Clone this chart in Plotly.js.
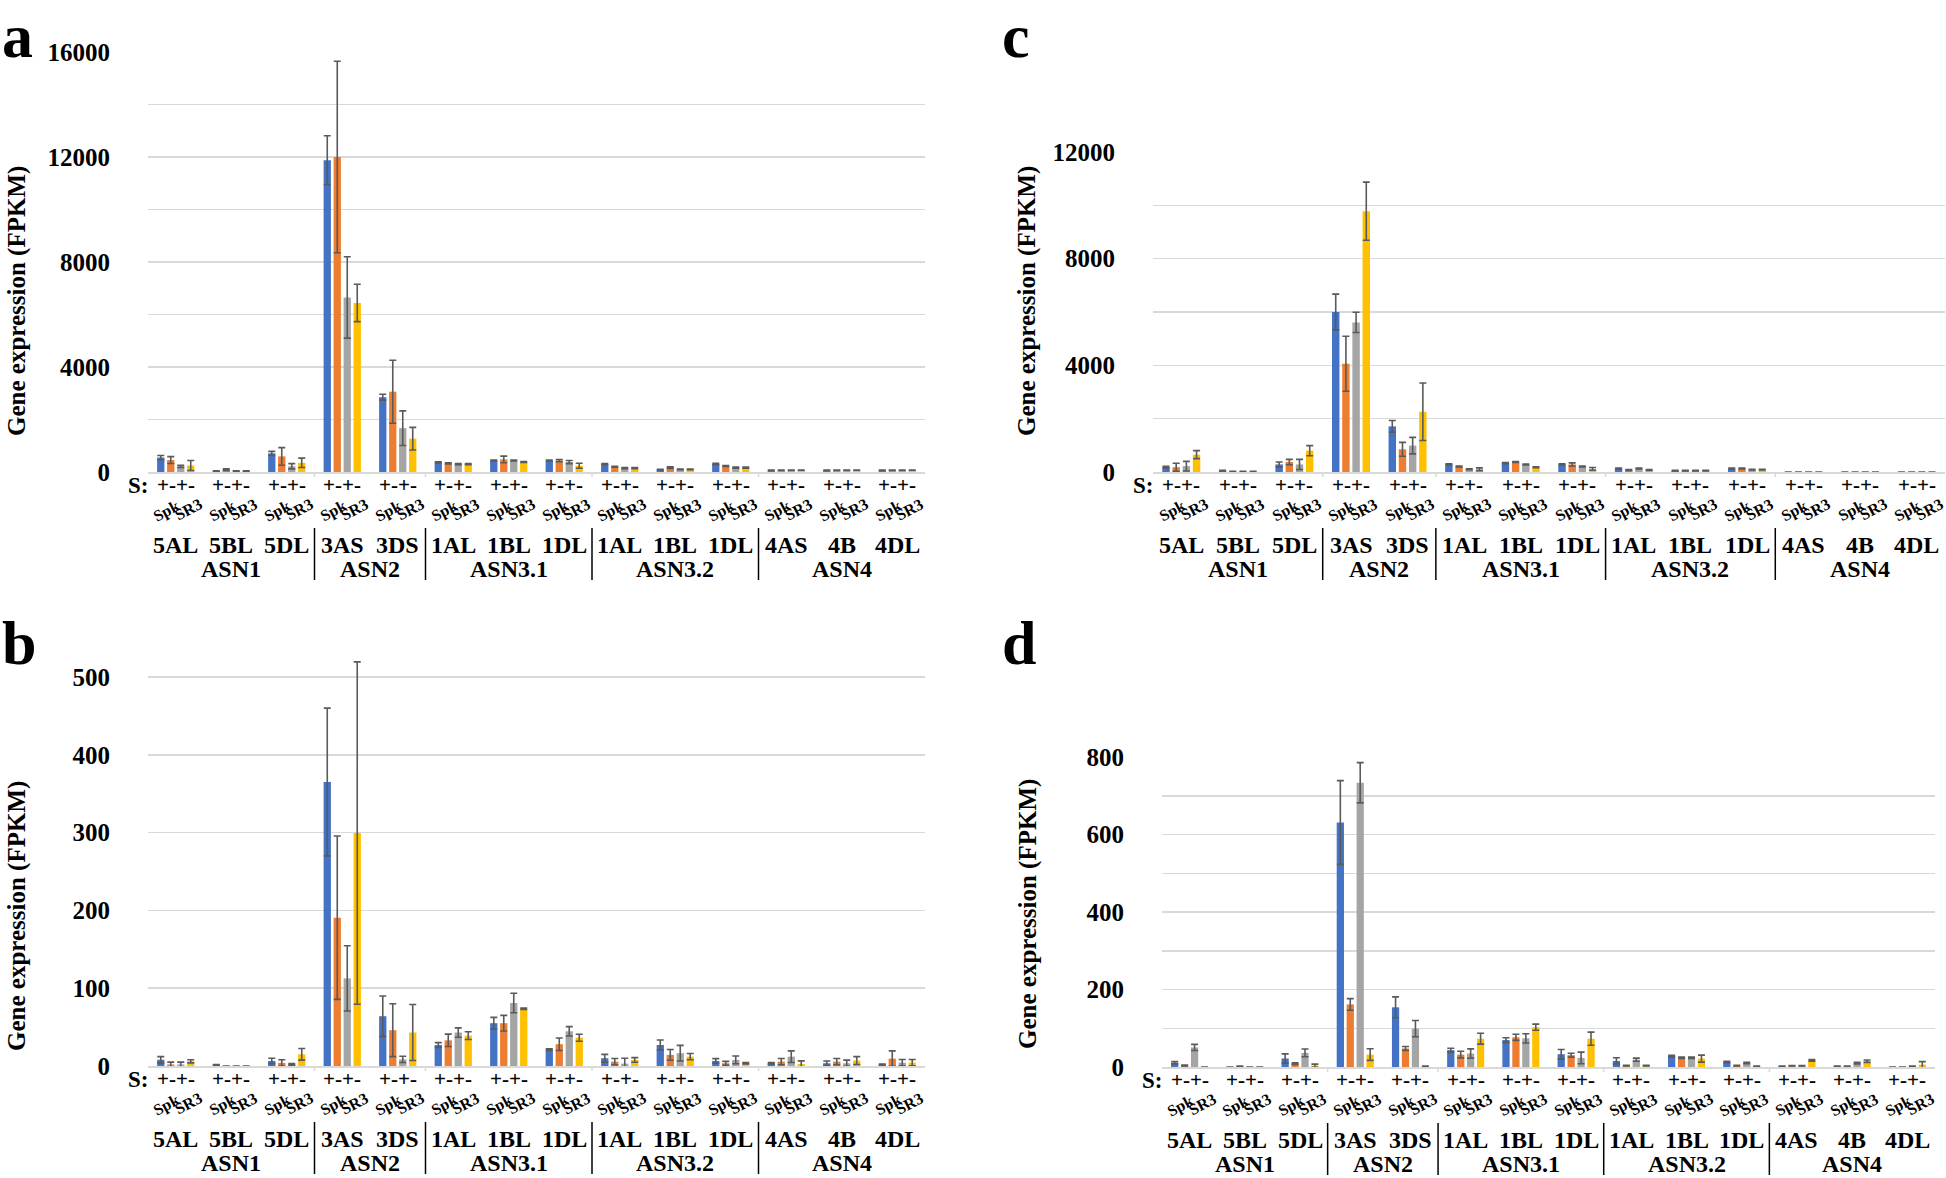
<!DOCTYPE html>
<html><head><meta charset="utf-8">
<script src="https://cdn.plot.ly/plotly-3.0.1.min.js"></script>
<style>html,body{margin:0;padding:0;background:#fff;} #chart{width:1946px;height:1178px;}</style>
</head><body><div id="chart"></div>
<script>
// ---------- data ----------
const genes = ['5AL','5BL','5DL','3AS','3DS','1AL','1BL','1DL','1AL','1BL','1DL','4AS','4B','4DL'];
const families = ['ASN1','ASN2','ASN3.1','ASN3.2','ASN4'];
const familySizes = [3,2,3,3,3];
const seriesNames = ['Spk S+','Spk S-','SR3 S+','SR3 S-'];
const signLabel = '+-+-';
const spkLabel = 'Spk';
const sr3Label = 'SR3';
const sLabel = 'S:';
const yTitle = 'Gene expression (FPKM)';
const panelLetters = ['a','b','c','d'];

// panel a
const aSpkPlus     = [550, 40, 710, 11880, 2850, 365, 440, 440, 305, 90, 305, 70, 70, 70];
const aSpkPlusErr  = [80, 10, 75, 930, 110, 20, 20, 20, 20, 10, 30, null, null, null];
const aSpkMinus    = [455, 90, 595, 12000, 3060, 330, 480, 430, 200, 165, 228, 70, 70, 70];
const aSpkMinusErr = [130, 30, 335, 3650, 1200, 20, 125, 40, 20, 30, 20, null, null, null];
const aSR3Plus     = [215, 40, 220, 6650, 1670, 300, 440, 380, 150, 100, 165, 70, 70, 70];
const aSR3PlusErr  = [40, 10, 100, 1550, 660, 20, 20, 60, 20, 10, 20, null, null, null];
const aSR3Minus    = [250, 40, 350, 6440, 1270, 300, 380, 240, 150, 100, 165, 70, 70, 70];
const aSR3MinusErr = [190, 10, 180, 710, 430, 20, 20, 95, 20, 10, 20, null, null, null];

// panel b
const bSpkPlus     = [8, 1.5, 6.5, 365, 64, 27, 55, 21, 10, 27, 6.5, 3.5, 3.5, 2];
const bSpkPlusErr  = [4, 0.5, 3.5, 95, 26, 3, 7.5, 1, 5, 6.5, 3, 1, 3, 0.5];
const bSpkMinus    = [2, 0, 4, 190.6, 46, 33, 55, 28, 5.6, 14.3, 3.5, 5.6, 5.6, 9.5];
const bSpkMinusErr = [3, null, 4, 105, 34, 8, 10, 8, 4, 7, 2.5, 4, 4, 10];
const bSR3Plus     = [2, 0, 2, 112.6, 8.5, 43, 81, 44.6, 3, 16.5, 7.8, 12, 3.5, 4.3];
const bSR3PlusErr  = [3, null, 1, 42, 4, 6, 12.5, 6, 7, 10, 5, 7.5, 4, 4];
const bSR3Minus    = [6, 0, 15, 299.4, 43, 39, 73.6, 36.4, 7.8, 12, 3.5, 2.6, 7, 4.3];
const bSR3MinusErr = [2, null, 7.5, 220, 36, 5, 1, 4.5, 3, 4, 1, 4, 5, 4];

// panel c
const cSpkPlus     = [180, 50, 284, 6000, 1710, 284, 335, 284, 129, 52, 129, 0, 0, 0];
const cSpkPlusErr  = [30, 10, 90, 670, 220, 20, 20, 20, 15, 10, 15, null, null, null];
const cSpkMinus    = [180, 20, 374, 4060, 850, 206, 374, 284, 77, 52, 129, 0, 0, 0];
const cSpkMinusErr = [150, 5, 100, 1030, 260, 20, 15, 60, 15, 10, 15, null, null, null];
const cSR3Plus     = [220, 20, 284, 5610, 990, 103, 284, 206, 129, 52, 90, 0, 0, 0];
const cSR3PlusErr  = [180, 5, 190, 380, 310, 20, 15, 20, 15, 10, 15, null, null, null];
const cSR3Minus    = [650, 20, 800, 9780, 2260, 103, 180, 116, 77, 52, 90, 0, 0, 0];
const cSR3MinusErr = [150, 5, 190, 1090, 1080, 50, 15, 50, 15, 10, 15, null, null, null];

// panel d
const dSpkPlus     = [11, 0, 22, 631, 154, 43.5, 69.6, 33, 15.7, 28, 13, 1.7, 1.7, 0];
const dSpkPlusErr  = [3, null, 12, 108, 27, 5, 6, 12, 8, 2, 2, 0.5, 0.5, null];
const dSpkMinus    = [4, 2, 8.7, 161.5, 47.8, 32, 76.6, 30.5, 3.5, 24, 3.5, 3, 1.7, 0];
const dSpkMinusErr = [1, 0.5, 2, 15, 5, 8.5, 8, 5, 1, 2, 1, 0.5, 0.5, null];
const dSR3Plus     = [50.5, 0, 36.5, 733.5, 99, 34.8, 74, 23.5, 19, 24, 10.4, 3, 10, 2];
const dSR3PlusErr  = [8, null, 10, 52, 21, 12, 12, 15, 4, 2, 2, 0.5, 2, 0.5];
const dSR3Minus    = [0, 0, 3.5, 32, 2, 73, 102.7, 73, 3.5, 21.7, 1.7, 17, 15, 6];
const dSR3MinusErr = [null, null, 4, 15, 0.5, 14, 8, 17, 1, 9, 0.5, 2, 3, 8];

// ---------- layout / style ----------
const W = 1946, H = 1178;
const colors = ['#4472C4', '#ED7D31', '#A5A5A5', '#FFC000'];
const FONT = 'Liberation Serif, Times New Roman, serif';

const panels = [
  {series:[[aSpkPlus,aSpkPlusErr],[aSpkMinus,aSpkMinusErr],[aSR3Plus,aSR3PlusErr],[aSR3Minus,aSR3MinusErr]],
   x0:148, x1:925, yBot:472, yTop:52, range:[0,16000], step:2000, labelStep:4000,
   titleX:17, titleY:301, letterX:0, letterY:0},
  {series:[[bSpkPlus,bSpkPlusErr],[bSpkMinus,bSpkMinusErr],[bSR3Plus,bSR3PlusErr],[bSR3Minus,bSR3MinusErr]],
   x0:148, x1:925, yBot:1066, yTop:657.5, range:[0,525], step:100, labelStep:100, maxTick:500,
   titleX:17, titleY:916, letterX:0, letterY:607},
  {series:[[cSpkPlus,cSpkPlusErr],[cSpkMinus,cSpkMinusErr],[cSR3Plus,cSR3PlusErr],[cSR3Minus,cSR3MinusErr]],
   x0:1153, x1:1945, yBot:472, yTop:152, range:[0,12000], step:2000, labelStep:4000,
   titleX:1027, titleY:301, letterX:1000, letterY:0},
  {series:[[dSpkPlus,dSpkPlusErr],[dSpkMinus,dSpkMinusErr],[dSR3Plus,dSR3PlusErr],[dSR3Minus,dSR3MinusErr]],
   x0:1162, x1:1935, yBot:1067, yTop:757, range:[0,800], step:100, labelStep:200,
   titleX:1028, titleY:914, letterX:1000, letterY:607}
];

const px2x = v => v / W;
const px2y = v => 1 - v / H;

const traces = [];
const layout = {
  width: W, height: H,
  margin: {l:0, r:0, t:0, b:0},
  paper_bgcolor: '#fff', plot_bgcolor: '#fff',
  showlegend: false,
  barmode: 'group', bargap: 0.28, bargroupgap: 0.27,
  font: {family: FONT, color: '#000'},
  annotations: [], shapes: []
};

panels.forEach((p, k) => {
  const sfx = k === 0 ? '' : String(k + 1);
  const xa = 'x' + sfx, ya = 'y' + sfx;
  p.series.forEach((s, si) => {
    traces.push({
      type: 'bar', name: seriesNames[si],
      x: genes.map((g, i) => i), y: s[0],
      xaxis: xa, yaxis: ya,
      marker: {color: colors[si], line: {width: 0}},
      error_y: {type: 'data', array: s[1], visible: true, color: '#5a5a5a', thickness: 1.6, width: 3.5},
      hoverinfo: 'skip'
    });
  });
  const maxTick = p.maxTick !== undefined ? p.maxTick : p.range[1];
  const tv = [], tt = [];
  for (let v = 0; v <= maxTick + 1e-9; v += p.step) {
    tv.push(v);
    tt.push(Math.abs(v / p.labelStep - Math.round(v / p.labelStep)) < 1e-9 ? String(v) : '');
  }
  layout['xaxis' + sfx] = {
    domain: [px2x(p.x0), px2x(p.x1)], anchor: ya, range: [-0.5, genes.length - 0.5],
    showticklabels: false, showgrid: false, zeroline: false, ticks: '',
    showline: true, linecolor: '#d9d9d9', linewidth: 1.5, fixedrange: true
  };
  layout['yaxis' + sfx] = {
    domain: [px2y(p.yBot), px2y(p.yTop)], anchor: xa, range: p.range,
    tickmode: 'array', tickvals: tv, ticktext: tt,
    ticks: 'outside', ticklen: 32, tickcolor: 'rgba(0,0,0,0)',
    tickfont: {family: FONT, size: 25, color: '#000', weight: 'bold'},
    showgrid: true, gridcolor: '#d9d9d9', gridwidth: 1.5,
    zeroline: false, showline: false, fixedrange: true
  };
  const A = layout.annotations;
  // y title
  A.push({xref:'paper', yref:'paper', x:px2x(p.titleX), y:px2y(p.titleY), text:'<b>'+yTitle+'</b>',
          textangle:-90, showarrow:false, xanchor:'center', yanchor:'middle',
          font:{family:FONT, size:25, color:'#000'}});
  // panel letter
  A.push({xref:'paper', yref:'paper', x:px2x(p.letterX), y:px2y(p.letterY), text:'<b>'+panelLetters[k]+'</b>',
          showarrow:false, xanchor:'left', yanchor:'top', font:{family:FONT, size:62, color:'#000'}});
  // S:
  A.push({xref:'paper', yref:'paper', x:px2x(p.x0 + 2), y:px2y(p.yBot + 13), text:'<b>'+sLabel+'</b>',
          showarrow:false, xanchor:'right', yanchor:'middle', font:{family:FONT, size:23, color:'#000'}});
  genes.forEach((g, i) => {
    A.push({xref:xa, yref:'paper', x:i, y:px2y(p.yBot + 13), text:'<b>'+signLabel+'</b>',
            showarrow:false, xanchor:'center', yanchor:'middle', font:{family:FONT, size:21, color:'#000'}});
    A.push({xref:xa, yref:'paper', x:i - 0.16, y:px2y(p.yBot + 39), text:'<b>'+spkLabel+'</b>', textangle:-28,
            showarrow:false, xanchor:'center', yanchor:'middle', font:{family:FONT, size:16, color:'#000'}});
    A.push({xref:xa, yref:'paper', x:i + 0.22, y:px2y(p.yBot + 37), text:'<b>'+sr3Label+'</b>', textangle:-28,
            showarrow:false, xanchor:'center', yanchor:'middle', font:{family:FONT, size:16, color:'#000'}});
    A.push({xref:xa, yref:'paper', x:i, y:px2y(p.yBot + 73), text:'<b>'+g+'</b>',
            showarrow:false, xanchor:'center', yanchor:'middle', font:{family:FONT, size:24, color:'#000'}});
  });
  let start = 0;
  families.forEach((f, fi) => {
    const n = familySizes[fi];
    A.push({xref:xa, yref:'paper', x:start + (n - 1) / 2, y:px2y(p.yBot + 97), text:'<b>'+f+'</b>',
            showarrow:false, xanchor:'center', yanchor:'middle', font:{family:FONT, size:24, color:'#000'}});
    if (fi > 0) {
      layout.shapes.push({type:'line', xref:xa, yref:'paper', x0:start - 0.5, x1:start - 0.5,
        y0:px2y(p.yBot + 56), y1:px2y(p.yBot + 108), line:{color:'#000', width:1.5}});
      layout.shapes.push({type:'line', xref:xa, yref:'paper', x0:start - 0.5, x1:start - 0.5,
        y0:px2y(p.yBot), y1:px2y(p.yBot + 5), line:{color:'#d9d9d9', width:1.5}});
    }
    start += n;
  });
});

Plotly.newPlot('chart', traces, layout, {staticPlot: true, displayModeBar: false});
</script>
</body></html>
